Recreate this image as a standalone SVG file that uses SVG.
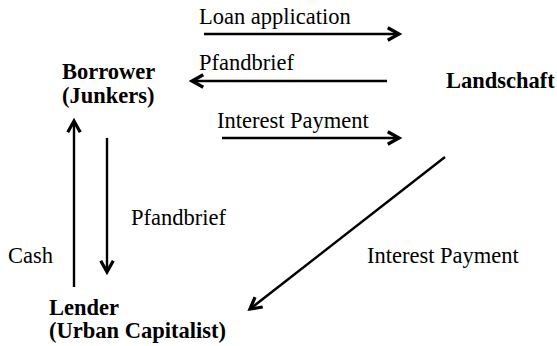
<svg xmlns="http://www.w3.org/2000/svg" width="557" height="346" viewBox="0 0 557 346">
<style>
text{font-family:'Liberation Serif','Times New Roman',serif;font-size:22.5px;fill:#000}
.b{font-weight:bold}
.c line{stroke:#000;stroke-width:2.4;marker-end:url(#ah)}
</style>
<defs>
<marker id="ah" markerUnits="userSpaceOnUse" markerWidth="20" markerHeight="20" viewBox="-12 -8 16 16" refX="0" refY="0" orient="auto" overflow="visible">
<path d="M-9,-5 L0,0 L-9,5" fill="none" stroke="#000" stroke-width="2.6"/>
</marker>
</defs>
<rect width="557" height="346" fill="#fff"/>
<g id="connectors" class="c">
<line x1="204" y1="34" x2="399" y2="34"/>
<line x1="387" y1="81" x2="192" y2="81"/>
<line x1="222" y1="138" x2="399" y2="138"/>
<line x1="74" y1="287" x2="74" y2="121"/>
<line x1="107" y1="138" x2="107" y2="272"/>
<line x1="445" y1="157" x2="250" y2="309"/>
</g>
<g id="labels">
<text x="199" y="24">Loan application</text>
<text x="199" y="70">Pfandbrief</text>
<text x="217" y="128">Interest Payment</text>
<text x="131" y="225">Pfandbrief</text>
<text x="8" y="263">Cash</text>
<text x="367" y="263">Interest Payment</text>
</g>
<g id="borrower"><text class="b" x="62" y="79">Borrower</text><text class="b" x="62" y="103">(Junkers)</text></g>
<g id="landschaft"><text class="b" x="446" y="88">Landschaft</text></g>
<g id="lender"><text class="b" x="49" y="315">Lender</text><text class="b" x="49" y="338">(Urban Capitalist)</text></g>
</svg>
